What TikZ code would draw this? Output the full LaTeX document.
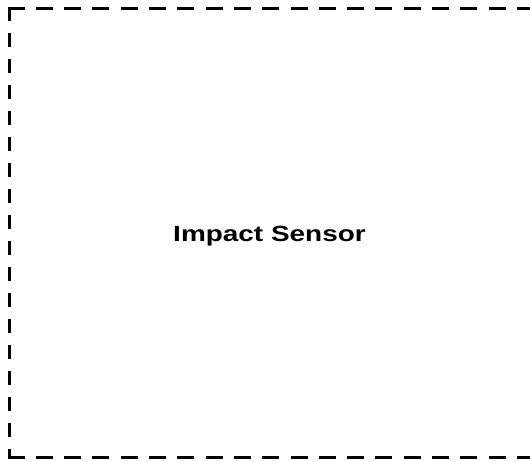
\documentclass[tikz,border=0pt]{standalone}
\usepackage{fontspec}
\setmainfont{Liberation Sans}
\begin{document}
\begin{tikzpicture}[x=1pt,y=1pt,
  edge/.style={draw=black, line width=3pt, line cap=rect},
  hedge/.style={edge, dash pattern=on 14pt off 14.3pt},
  vedge/.style={edge, dash pattern=on 11pt off 15pt},
  label/.style={inner sep=0pt, font=\fontsize{22}{26}\selectfont\bfseries}]
\useasboundingbox (0,0) rectangle (530,-462);
\clip (0,0) rectangle (530,-462);
\coordinate (tl) at (9,-8.7);
\coordinate (bl) at (9,-457.5);
\coordinate (tr) at (545,-8.7);
\coordinate (br) at (545,-457.5);
\draw[hedge] (tl) -- (tr);
\draw[hedge] (bl) -- (br);
\draw[vedge] (tl) -- (bl);
\node[label] (sensor) at (269.5,-236) {\scalebox{1.27}[1]{Impact Sensor}};
\end{tikzpicture}
\end{document}
